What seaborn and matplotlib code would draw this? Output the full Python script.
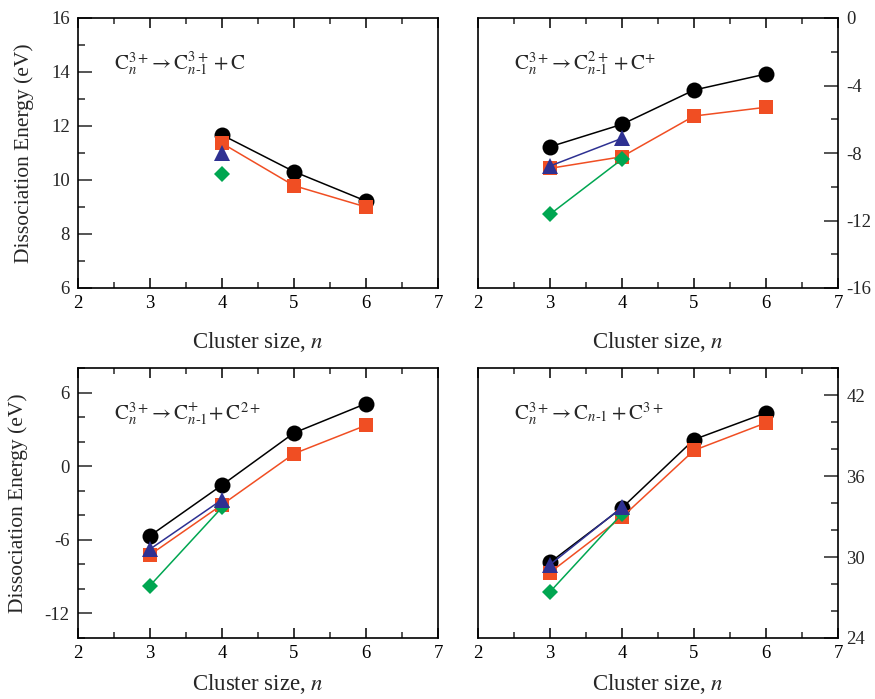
import matplotlib
matplotlib.use("Agg")
import matplotlib.pyplot as plt
import seaborn as sns
import pandas as pd
from matplotlib.ticker import MultipleLocator

sns.set_theme(style="ticks")
plt.rcParams['font.family'] = ['Liberation Serif', 'DejaVu Serif']
plt.rcParams['mathtext.fontset'] = 'stix'
plt.rcParams['axes.unicode_minus'] = False

# ---- data ----
n_A = [4, 5, 6]
black_A = [11.67, 10.31, 9.22]
orange_A = [11.36, 9.79, 9.00]
n_A_single = [4]
blue_A = [10.99]
green_A = [10.22]

n_B = [3, 4, 5, 6]
black_B = [-7.63, -6.30, -4.27, -3.32]
orange_B = [-8.91, -8.22, -5.81, -5.29]
n_B_short = [3, 4]
blue_B = [-8.77, -7.13]
green_B = [-11.63, -8.37]

n_C = [3, 4, 5, 6]
black_C = [-5.67, -1.54, 2.71, 5.10]
orange_C = [-7.22, -3.14, 1.02, 3.33]
n_C_short = [3, 4]
blue_C = [-6.76, -2.73]
green_C = [-9.73, -3.36]

n_D = [3, 4, 5, 6]
black_D = [29.60, 33.64, 38.70, 40.68]
orange_D = [28.85, 32.95, 37.90, 39.94]
n_D_short = [3, 4]
blue_D = [29.43, 33.69]
green_D = [27.42, 33.20]

titles = [
    r'$\mathrm{C}_{n}^{3+}\!\rightarrow\mathrm{C}_{n\mathrm{\text{-}1}}^{3+}+\mathrm{C}$',
    r'$\mathrm{C}_{n}^{3+}\!\rightarrow\mathrm{C}_{n\mathrm{\text{-}1}}^{2+}+\mathrm{C}^{+}$',
    r'$\mathrm{C}_{n}^{3+}\!\rightarrow\mathrm{C}_{n\mathrm{\text{-}1}}^{+}\!+\mathrm{C}^{2+}$',
    r'$\mathrm{C}_{n}^{3+}\!\rightarrow\mathrm{C}_{n\mathrm{\text{-}1}}+\mathrm{C}^{3+}$',
]

BLACK = '#000000'
ORANGE = '#F04E23'
BLUE = '#2E3192'
GREEN = '#00A651'

fig = plt.figure(figsize=(8.75, 6.99), dpi=100)
W, H = 875, 699
def ax_at(x0, y0, x1, y1):
    return fig.add_axes([x0 / W, 1 - y1 / H, (x1 - x0) / W, (y1 - y0) / H])

axA = ax_at(78, 18, 438, 288)
axB = ax_at(478, 18, 838, 288)
axC = ax_at(78, 368, 438, 638)
axD = ax_at(478, 368, 838, 638)

def draw(ax, nb, bk, orr, nbl, bl, ngr, gr):
    kw = dict(linewidth=1.1, markeredgewidth=0, ax=ax, legend=False)
    sns.lineplot(x=nb, y=bk, color=BLACK, marker='o', markersize=11.5, zorder=2, **kw)
    sns.lineplot(x=nb, y=orr, color=ORANGE, marker='s', markersize=9.5, zorder=3, **kw)
    sns.lineplot(x=ngr, y=gr, color=GREEN, marker='D', markersize=8.0, zorder=4, **kw)
    sns.lineplot(x=nbl, y=bl, color=BLUE, marker='^', markersize=11, zorder=5, **kw)

draw(axA, n_A, black_A, orange_A, n_A_single, blue_A, n_A_single, green_A)
draw(axB, n_B, black_B, orange_B, n_B_short, blue_B, n_B_short, green_B)
draw(axC, n_C, black_C, orange_C, n_C_short, blue_C, n_C_short, green_C)
draw(axD, n_D, black_D, orange_D, n_D_short, blue_D, n_D_short, green_D)

specs = [
    (axA, (6, 16), 2, 1, 'left', 13),
    (axB, (-16, 0), 4, 2, 'right', 13),
    (axC, (-14, 8), 6, 2, 'left', 7),
    (axD, (24, 44), 6, 2, 'right', 7),
]
for (ax, ylim, ymaj, ymin, side, xpad), title in zip(specs, titles):
    ax.set_xlim(2, 7)
    ax.set_ylim(*ylim)
    ax.xaxis.set_major_locator(MultipleLocator(1))
    ax.xaxis.set_minor_locator(MultipleLocator(0.5))
    ax.yaxis.set_major_locator(MultipleLocator(ymaj))
    ax.yaxis.set_minor_locator(MultipleLocator(ymin))
    for sp in ax.spines.values():
        sp.set_visible(True)
        sp.set_linewidth(1.2)
        sp.set_color('black')
    ax.tick_params(axis='x', which='major', direction='in', length=7, width=1.1,
                   top=True, bottom=True, labelsize=13.5, pad=5, colors='black')
    ax.tick_params(axis='x', which='minor', direction='in', length=4, width=1.1,
                   top=True, bottom=True)
    if side == 'left':
        ax.tick_params(axis='y', which='both', direction='in', left=True, right=False,
                       labelleft=True, labelright=False, width=1.1)
        ax.set_ylabel('Dissociation Energy (eV)', fontsize=15.5, labelpad=12)
    else:
        ax.tick_params(axis='y', which='both', direction='in', left=False, right=True,
                       labelleft=False, labelright=True, width=1.1)
        ax.set_ylabel('')
    ax.tick_params(axis='y', which='major', length=10, labelsize=13.5, pad=6)
    ax.tick_params(axis='y', which='minor', length=5)
    ax.set_xlabel(r'Cluster size, $n$', fontsize=16.5, labelpad=xpad)
    ax.text(0.10, 0.83, title, transform=ax.transAxes, fontsize=15,
            ha='left', va='center')
    ax.grid(False)
    ax.set_facecolor('white')

fig.savefig('out.png', dpi=100, facecolor='white')
